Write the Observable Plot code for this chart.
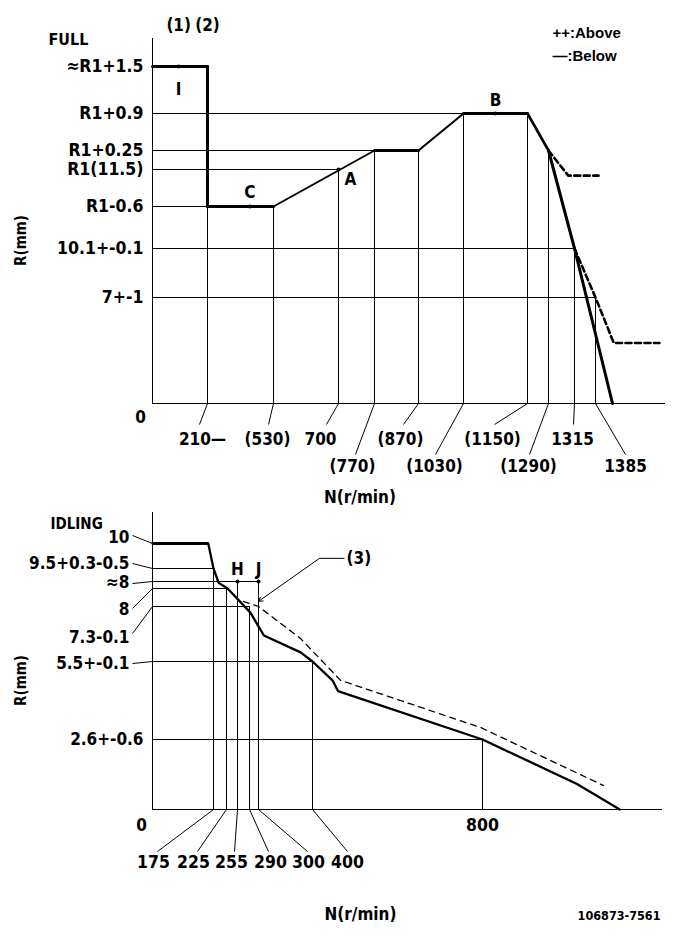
<!DOCTYPE html>
<html>
<head>
<meta charset="utf-8">
<script src="https://cdn.jsdelivr.net/npm/d3@7"></script>
<script src="https://cdn.jsdelivr.net/npm/@observablehq/plot@0.6"></script>
<style>
html, body { margin: 0; padding: 0; background: #fff; }
#chart { width: 685px; height: 936px; position: relative; overflow: hidden; }
#chart svg { display: block; }
</style>
</head>
<body>
<div id="chart"></div>
<script>
// ================= DATA: FULL (top chart) =================
const fullCurveN = [0, 210, 210, 530, 770, 870, 1030, 1150, 1290, 1315, 1413];
const fullCurveR = [13, 13, 10.9, 10.9, 11.75, 11.75, 12.4, 12.4, 11.75, 10.1, 0];
const fullAbove1N = [1290, 1309, 1390];
const fullAbove1R = [11.75, 11.4, 11.4];
const fullAbove2N = [1315, 1385, 1415, 1490];
const fullAbove2R = [10.1, 7, 4, 4];
const fullLevelR = [13, 12.4, 11.75, 11.5, 10.9, 10.1, 7];
const fullLevelLabels = ["≈R1+1.5", "R1+0.9", "R1+0.25", "R1(11.5)", "R1-0.6", "10.1+-0.1", "7+-1"];
const fullLevelEndN = [210, 1030, 770, 700, 210, 1315, 1385];
const fullTickN = [210, 530, 700, 770, 870, 1030, 1150, 1290, 1315, 1385];
const fullTickTopR = [10.9, 10.9, 11.5, 11.75, 11.75, 12.4, 12.4, 11.75, 10.1, 7];
const fullTickLabels = ["210—", "(530)", "700", "(770)", "(870)", "(1030)", "(1150)", "(1290)", "1315", "1385"];
const fullPointN = [100, 415, 700, 1090];
const fullPointR = [13, 10.9, 11.5, 12.4];
const fullPointLabels = ["I", "C", "A", "B"];
const fullSectionN = [100, 210];
const fullSectionLabels = ["(1)", "(2)"];
const legendLabels = ["++:Above", "—:Below"];

// ================= DATA: IDLING (bottom chart) =================
const idleCurveN = [0, 160, 175, 195, 228, 291, 310, 378, 400, 447, 460, 800, 1010, 1105];
const idleCurveR = [10, 10, 9.5, 8.2, 8.0, 7.1, 6.35, 5.8, 5.5, 4.8, 4.4, 2.6, 0.95, 0];
const idleAboveN = [272, 300, 378, 466, 795, 1069];
const idleAboveR = [7.5, 7.3, 6.25, 4.8, 3.05, 0.89];
const idleLevelR = [10, 9.5, 8.25, 8, 7.3, 5.5, 2.6];
const idleLevelLabels = ["10", "9.5+0.3-0.5", "≈8", "8", "7.3-0.1", "5.5+-0.1", "2.6+-0.6"];
const idleLevelEndN = [160, 175, 300, 225, 290, 400, 800];
const idleTickN = [175, 225, 255, 290, 300, 400, 800];
const idleTickTopR = [9.5, 8, 8.25, 7.3, 8.25, 5.5, 2.6];
const idleTickLabels = ["175", "225", "255", "290", "300", "400", "800"];
const idlePointN = [255, 300];
const idlePointR = [8.25, 8.25];
const idlePointLabels = ["H", "J"];
const idleNoteN = [300];
const idleNoteR = [7.5];
const idleNoteLabels = ["(3)"];

// ================= LAYOUT / STYLE =================
const W = 685, TOP_H = 506, BOT_H = 430;
const FONT = "'Liberation Sans Narrow','DejaVu Sans Condensed','Liberation Sans',sans-serif";
const idx = a => a.map((_, i) => i);

// schematic (piecewise) scales: domain breakpoints come from the tick values
const fullXDomain = [0, ...fullTickN, 1500];
const fullXRange = [152, 207, 273, 338, 374, 418, 463, 527, 548, 574, 595, 665];
const fullYDomain = [0, ...fullLevelR.slice().reverse(), 13.6];
const fullYRange = [403, 297, 248, 206, 169, 150, 113, 66, 38];
const idleXDomain = [0, ...idleTickN, 1200];
const idleXRange = [152, 213, 226, 237, 249, 258, 312, 482, 662];
const idleYDomain = [0, ...idleLevelR.slice().reverse(), 11];
const idleYRange = [809, 739, 661, 606, 588, 581, 568, 543, 512].map(v => v - TOP_H);

const fullSegWidth = [3, 3, 3, 2, 3, 2, 3, 2.6, 3, 3];
const fullTickLayout = [
  {dx: -5, lx: -8, row: 0}, {dx: -6, lx: -5, row: 0}, {dx: -18, lx: -12, row: 0},
  {dx: -22, lx: -19, row: 1}, {dx: -18, lx: -15, row: 0}, {dx: -29, lx: -28, row: 1},
  {dx: -35, lx: -33, row: 0}, {dx: -20, lx: -19, row: 1}, {dx: -2, lx: -1, row: 0},
  {dx: 30, lx: 30, row: 1}
];
const ROW_LEADER = [21, 51], ROW_TEXT = [36, 63];
const fullPointLayout = [{dx: 0, dy: 23}, {dx: 0, dy: -14}, {dx: 12, dy: 10}, {dx: 0, dy: -13}];

const idleTickLayout = [
  {dx: -60, lx: -56, lead: true}, {dx: -33, lx: -29, lead: true}, {dx: -6, lx: -3, lead: true},
  {dx: 21, lx: 19, lead: true}, {dx: 50, lx: 49, lead: true}, {dx: 35, lx: 35, lead: true},
  {dx: 0, lx: 0, lead: false}
];
const idleLevelLayout = [
  {dy: -6, ly: -8, lead: true}, {dy: -5, ly: -5, lead: true}, {dy: 1, ly: 2, lead: true},
  {dy: 21, ly: 20, lead: true}, {dy: 31, ly: 27, lead: true}, {dy: 2, ly: 2, lead: true},
  {dy: 0, ly: 0, lead: false}
];

const fx = d3.scaleLinear(fullXDomain, fullXRange);
const fy = d3.scaleLinear(fullYDomain, fullYRange);
const ix = d3.scaleLinear(idleXDomain, idleXRange);
const iy = d3.scaleLinear(idleYDomain, idleYRange);
const shift = (s, v, d) => s.invert(s(v) + d);

const TXT = {fontFamily: FONT, fontWeight: "bold", fill: "black"};
const FTXT = {...TXT, lineAnchor: "middle"};

// ================= TOP CHART =================
const fullSegs = d3.range(fullCurveN.length - 1);
const fullLeaders = fullTickN.map((n, i) => {
  const L = fullTickLayout[i];
  return {x1: n, y1: 0, x2: shift(fx, n, L.lx), y2: shift(fy, 0, ROW_LEADER[L.row])};
});

const topChart = Plot.plot({
  width: W, height: TOP_H,
  marginLeft: 152, marginRight: W - 665, marginTop: 38, marginBottom: TOP_H - 403,
  style: {background: "white", overflow: "visible"},
  x: {type: "linear", domain: fullXDomain, range: fullXRange, axis: null},
  y: {type: "linear", domain: fullYDomain, range: fullYRange, axis: null},
  marks: [
    Plot.ruleX([0], {y1: 0, y2: 13.6, stroke: "black", strokeWidth: 1}),
    Plot.ruleY([0], {x1: 0, x2: 1500, stroke: "black", strokeWidth: 1}),
    Plot.ruleY(idx(fullLevelR), {y: i => fullLevelR[i], x1: 0, x2: i => fullLevelEndN[i], stroke: "black", strokeWidth: 1}),
    Plot.ruleX(idx(fullTickN), {x: i => fullTickN[i], y1: 0, y2: i => fullTickTopR[i], stroke: "black", strokeWidth: 1}),
    Plot.link(fullLeaders, {x1: "x1", y1: "y1", x2: "x2", y2: "y2", stroke: "black", strokeWidth: 1}),
    Plot.line(idx(fullAbove1N), {x: i => fullAbove1N[i], y: i => fullAbove1R[i], stroke: "black", strokeWidth: 2.6, strokeDasharray: "6,3.5"}),
    Plot.line(idx(fullAbove2N), {x: i => fullAbove2N[i], y: i => fullAbove2R[i], stroke: "black", strokeWidth: 2.6, strokeDasharray: "6,3.5"}),
    Plot.link(fullSegs, {
      x1: i => fullCurveN[i], y1: i => fullCurveR[i],
      x2: i => fullCurveN[i + 1], y2: i => fullCurveR[i + 1],
      strokeWidth: i => fullSegWidth[i], stroke: "black", strokeLinecap: "round"
    }),
    Plot.dot(idx(fullPointN), {x: i => fullPointN[i], y: i => fullPointR[i], r: 2, fill: "black", stroke: null}),
    ...fullPointLabels.map((t, i) => Plot.text([i], {
      x: j => fullPointN[j], y: j => fullPointR[j], text: j => fullPointLabels[j],
      dx: fullPointLayout[i].dx, dy: fullPointLayout[i].dy, fontSize: 17, ...TXT
    })),
    Plot.text(idx(fullSectionN), {x: i => fullSectionN[i], y: 13.6, text: i => fullSectionLabels[i], dy: -13, fontSize: 17, ...TXT}),
    Plot.text(idx(fullLevelR), {x: 0, y: i => fullLevelR[i], text: i => fullLevelLabels[i], textAnchor: "end", dx: -9, fontSize: 17.5, ...TXT}),
    Plot.text(idx(fullTickN), {
      x: i => shift(fx, fullTickN[i], fullTickLayout[i].dx),
      y: i => shift(fy, 0, ROW_TEXT[fullTickLayout[i].row]),
      text: i => fullTickLabels[i], fontSize: 17, ...TXT
    }),
    Plot.text(["FULL"], {frameAnchor: "top-left", dx: -104, dy: 1, textAnchor: "start", fontSize: 16, ...FTXT}),
    Plot.text(["0"], {frameAnchor: "bottom-left", dx: -12, dy: 14, textAnchor: "middle", fontSize: 17, ...FTXT}),
    Plot.text(["R(mm)"], {frameAnchor: "left", dx: -131, dy: 19.5, textAnchor: "middle", rotate: -90, fontSize: 15, ...FTXT}),
    Plot.text(["N(r/min)"], {frameAnchor: "bottom", dx: -49, dy: 94, textAnchor: "middle", fontSize: 17, ...FTXT}),
    Plot.text([legendLabels[0]], {frameAnchor: "top-right", dx: -113, dy: -5, textAnchor: "start", fontSize: 15, ...FTXT, fontFamily: "'Liberation Sans',sans-serif"}),
    Plot.text([legendLabels[1]], {frameAnchor: "top-right", dx: -113, dy: 18, textAnchor: "start", fontSize: 15, ...FTXT, fontFamily: "'Liberation Sans',sans-serif"})
  ]
});

// ================= BOTTOM CHART =================
const idleLeadersX = idleTickN.map((n, i) => ({n, L: idleTickLayout[i]})).filter(d => d.L.lead)
  .map(d => ({x1: d.n, y1: 0, x2: shift(ix, d.n, d.L.lx), y2: shift(iy, 0, 42)}));
const idleLeadersY = idleLevelR.map((r, i) => ({r, L: idleLevelLayout[i]})).filter(d => d.L.lead)
  .map(d => ({x1: 0, y1: d.r, x2: shift(ix, 0, -20), y2: shift(iy, d.r, d.L.ly)}));
const noteElbow = idleNoteN.map((n, i) => ({x: shift(ix, n, 61), y: shift(iy, idleNoteR[i], -43)}));
const noteEnd = idleNoteN.map((n, i) => ({x: shift(ix, n, 86), y: shift(iy, idleNoteR[i], -43)}));

const bottomChart = Plot.plot({
  width: W, height: BOT_H,
  marginLeft: 152, marginRight: W - 662, marginTop: 6, marginBottom: BOT_H - 303,
  style: {background: "white", overflow: "visible"},
  x: {type: "linear", domain: idleXDomain, range: idleXRange, axis: null},
  y: {type: "linear", domain: idleYDomain, range: idleYRange, axis: null},
  marks: [
    Plot.ruleX([0], {y1: 0, y2: 11, stroke: "black", strokeWidth: 1}),
    Plot.ruleY([0], {x1: 0, x2: 1200, stroke: "black", strokeWidth: 1}),
    Plot.ruleY(idx(idleLevelR), {y: i => idleLevelR[i], x1: 0, x2: i => idleLevelEndN[i], stroke: "black", strokeWidth: 1}),
    Plot.ruleX(idx(idleTickN), {x: i => idleTickN[i], y1: 0, y2: i => idleTickTopR[i], stroke: "black", strokeWidth: 1}),
    Plot.link(idleLeadersX, {x1: "x1", y1: "y1", x2: "x2", y2: "y2", stroke: "black", strokeWidth: 1}),
    Plot.link(idleLeadersY, {x1: "x1", y1: "y1", x2: "x2", y2: "y2", stroke: "black", strokeWidth: 1}),
    Plot.line(idx(idleAboveN), {x: i => idleAboveN[i], y: i => idleAboveR[i], stroke: "black", strokeWidth: 1.3, strokeDasharray: "6,5"}),
    Plot.line(idx(idleCurveN), {x: i => idleCurveN[i], y: i => idleCurveR[i], stroke: "black", strokeWidth: 2.3, strokeLinejoin: "round"}),
    Plot.link([0], {x1: i => idleCurveN[i], y1: i => idleCurveR[i], x2: i => idleCurveN[i + 1], y2: i => idleCurveR[i + 1], stroke: "black", strokeWidth: 3.2}),
    Plot.dot(idx(idlePointN), {x: i => idlePointN[i], y: i => idlePointR[i], r: 2, fill: "black", stroke: null}),
    Plot.text(idx(idlePointN), {x: i => idlePointN[i], y: i => idlePointR[i], text: i => idlePointLabels[i], dy: -12, fontSize: 17, ...TXT}),
    Plot.arrow(idx(idleNoteN), {
      x1: i => noteElbow[i].x, y1: i => noteElbow[i].y, x2: i => idleNoteN[i], y2: i => idleNoteR[i],
      stroke: "black", strokeWidth: 1, headLength: 7
    }),
    Plot.link(idx(idleNoteN), {x1: i => noteElbow[i].x, y1: i => noteElbow[i].y, x2: i => noteEnd[i].x, y2: i => noteEnd[i].y, stroke: "black", strokeWidth: 1}),
    Plot.text(idx(idleNoteN), {x: i => noteEnd[i].x, y: i => noteEnd[i].y, text: i => idleNoteLabels[i], dx: 2, textAnchor: "start", fontSize: 17, ...TXT}),
    Plot.text(idx(idleLevelR), {
      x: i => shift(ix, 0, idleLevelLayout[i].lead ? -23 : -9),
      y: i => shift(iy, idleLevelR[i], idleLevelLayout[i].dy),
      text: i => idleLevelLabels[i], textAnchor: "end", fontSize: 17, ...TXT
    }),
    Plot.text(idx(idleTickN), {
      x: i => shift(ix, idleTickN[i], idleTickLayout[i].dx),
      y: i => shift(iy, 0, idleTickLayout[i].lead ? 53 : 16),
      text: i => idleTickLabels[i], fontSize: 17.5, ...TXT
    }),
    Plot.text(["IDLING"], {frameAnchor: "top-left", dx: -102, dy: 12, textAnchor: "start", fontSize: 15, ...FTXT}),
    Plot.text(["0"], {frameAnchor: "bottom-left", dx: -11, dy: 16, textAnchor: "middle", fontSize: 17, ...FTXT}),
    Plot.text(["R(mm)"], {frameAnchor: "left", dx: -131, dy: 19.5, textAnchor: "middle", rotate: -90, fontSize: 15, ...FTXT}),
    Plot.text(["N(r/min)"], {frameAnchor: "bottom", dx: -47, dy: 105, textAnchor: "middle", fontSize: 17, ...FTXT}),
    Plot.text(["106873-7561"], {frameAnchor: "bottom-right", dx: -2, dy: 106, textAnchor: "end", fontSize: 12.5, ...FTXT})
  ]
});

const chart = document.getElementById("chart");
chart.appendChild(topChart);
chart.appendChild(bottomChart);
</script>
</body>
</html>
